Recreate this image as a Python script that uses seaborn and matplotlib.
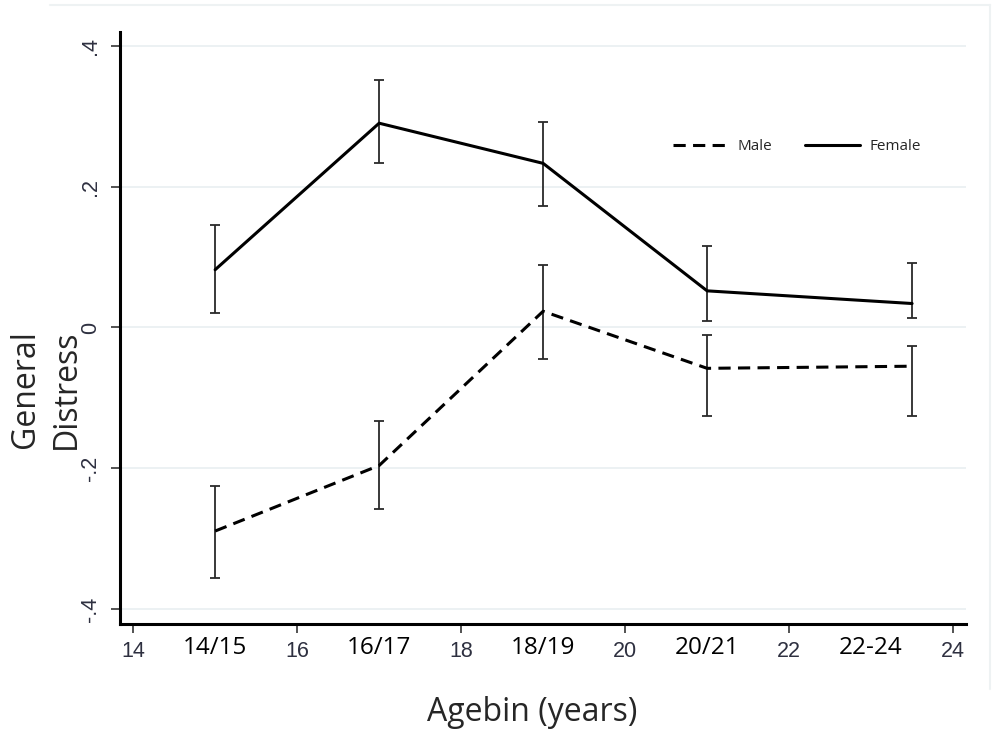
import pandas as pd
import matplotlib.pyplot as plt
import seaborn as sns
from matplotlib.lines import Line2D

# =====================================================
# DATA
# =====================================================

age_pos = [15, 17, 19, 21, 23.5]
age_labels = ["14/15", "16/17", "18/19", "20/21", "22-24"]
label_pos = [15, 17, 19, 21, 23]

female_mean = [0.082, 0.290, 0.233, 0.052, 0.034]
female_low = [0.020, 0.234, 0.173, 0.009, 0.013]
female_high = [0.145, 0.352, 0.292, 0.116, 0.092]

male_mean = [-0.289, -0.196, 0.023, -0.058, -0.055]
male_low = [-0.355, -0.258, -0.045, -0.126, -0.126]
male_high = [-0.225, -0.133, 0.088, -0.011, -0.027]

num_ticks = [14, 16, 18, 20, 22, 24]
y_ticks = [-0.4, -0.2, 0, 0.2, 0.4]
y_tick_labels = ["-.4", "-.2", "0", ".2", ".4"]

df = pd.DataFrame({
    "age": age_pos * 2,
    "distress": male_mean + female_mean,
    "sex": ["Male"] * 5 + ["Female"] * 5,
})

# =====================================================
# STYLE
# =====================================================

sns.set_style("white")
plt.rcParams["font.family"] = ["Open Sans", "DejaVu Sans"]

fig = plt.figure(figsize=(9.92, 7.35), dpi=100)
ax = fig.add_axes([0.121, 0.151, 0.853, 0.805])

# gridlines
for yt in y_ticks:
    ax.axhline(yt, color="#e9eff1", lw=1.2, zorder=0)

# error bars
ax.errorbar(age_pos, female_mean,
            yerr=[[m - l for m, l in zip(female_mean, female_low)],
                  [h - m for m, h in zip(female_mean, female_high)]],
            fmt="none", ecolor="#2a2a2a", elinewidth=1.3, capsize=3.8,
            capthick=1.3, zorder=2)
ax.errorbar(age_pos, male_mean,
            yerr=[[m - l for m, l in zip(male_mean, male_low)],
                  [h - m for m, h in zip(male_mean, male_high)]],
            fmt="none", ecolor="#2a2a2a", elinewidth=1.3, capsize=3.8,
            capthick=1.3, zorder=2)

# lines
sns.lineplot(data=df, x="age", y="distress", style="sex",
             style_order=["Male", "Female"],
             dashes={"Male": (4.0, 2.4), "Female": ""},
             color="black", linewidth=2.2, ax=ax, zorder=3)

# =====================================================
# AXES
# =====================================================

ax.set_xlim(13.84, 24.16)
ax.set_ylim(-0.421, 0.419)

ax.set_xticks(num_ticks)
ax.set_xticklabels([str(t) for t in num_ticks])
ax.set_xticks(label_pos, minor=True)
ax.set_xticklabels(age_labels, minor=True)

ax.tick_params(axis="x", which="major", direction="out", length=6.5,
               width=1.3, color="#444444", pad=6, labelsize=15.5,
               labelcolor="#2e3040", bottom=True)
ax.tick_params(axis="x", which="minor", length=0, pad=8.5, labelsize=17.5,
               labelcolor="black", bottom=True)
for lab in ax.get_xticklabels():
    lab.set_family(["Liberation Sans", "DejaVu Sans"])

ax.set_yticks(y_ticks)
ax.set_yticklabels(y_tick_labels, rotation=90, va="center",
                   family=["Liberation Sans", "DejaVu Sans"])
ax.tick_params(axis="y", direction="out", length=6.5, width=1.3,
               color="#444444", pad=7, labelsize=15.5, labelcolor="#2e3040",
               left=True)

for side in ["top", "right"]:
    ax.spines[side].set_visible(False)
for side in ["left", "bottom"]:
    ax.spines[side].set_color("black")
    ax.spines[side].set_linewidth(2.2)

ax.set_xlabel("")
ax.set_ylabel("")
fig.text(0.536, 0.031, "Agebin (years)", ha="center", va="center",
         fontsize=23)
fig.text(0.046, 0.47, "General\nDistress", ha="center", va="center",
         rotation=90, fontsize=23, linespacing=1.3)

# legend
ax.legend(loc="center", bbox_to_anchor=(0.80, 0.807), ncol=2, frameon=False,
          fontsize=11, handlelength=3.6, handletextpad=0.6,
          columnspacing=2.2)

# faint outer border of the graph region
fig.add_artist(Line2D([0.05, 0.998], [0.993, 0.993], color="#eef2f3", lw=1.5))
fig.add_artist(Line2D([0.998, 0.998], [0.993, 0.062], color="#eef2f3", lw=1.5))

plt.savefig("out.png", dpi=100)
